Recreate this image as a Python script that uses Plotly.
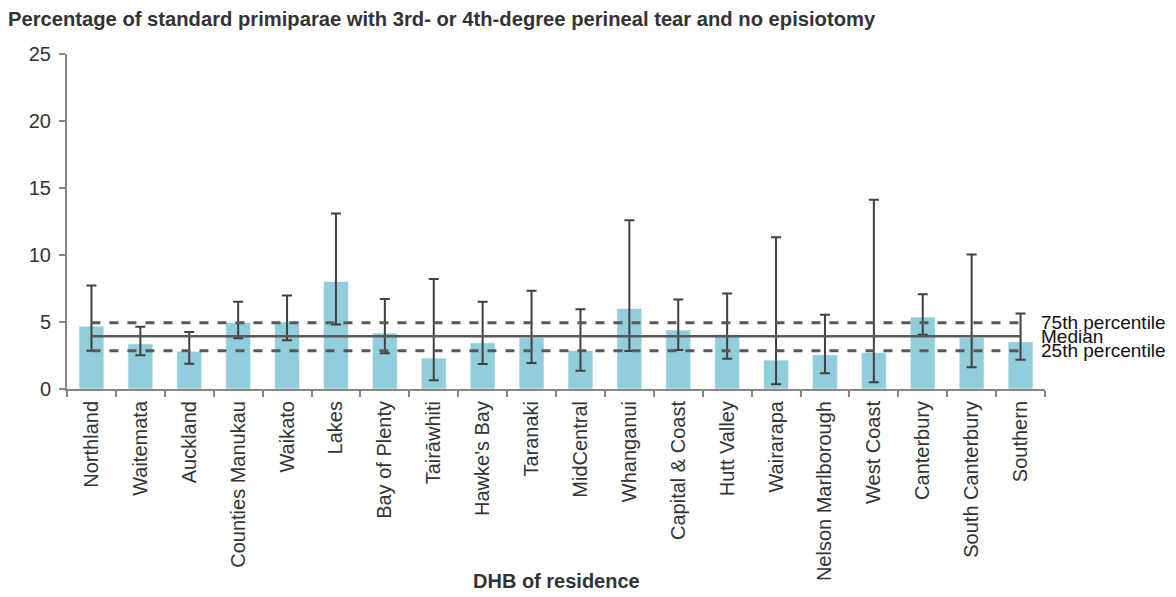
import plotly.graph_objects as go

categories = ["Northland", "Waitemata", "Auckland", "Counties Manukau", "Waikato", "Lakes",
              "Bay of Plenty", "Tairāwhiti", "Hawke's Bay", "Taranaki", "MidCentral", "Whanganui",
              "Capital & Coast", "Hutt Valley", "Wairarapa", "Nelson Marlborough", "West Coast",
              "Canterbury", "South Canterbury", "Southern"]
values = [4.69, 3.38, 2.81, 4.97, 5.02, 8.02, 4.17, 2.31, 3.45, 3.83, 2.88, 6.01,
          4.40, 4.07, 2.16, 2.56, 2.73, 5.37, 3.83, 3.53]
ci_upper = [7.73, 4.65, 4.25, 6.51, 6.98, 13.09, 6.71, 8.20, 6.51, 7.33, 5.96, 12.59,
            6.68, 7.13, 11.33, 5.54, 14.13, 7.08, 10.04, 5.64]
ci_lower = [2.86, 2.51, 1.89, 3.78, 3.63, 4.82, 2.66, 0.65, 1.86, 1.94, 1.37, 2.83,
            2.91, 2.26, 0.35, 1.17, 0.50, 4.05, 1.62, 2.19]
p75 = 4.94
median = 3.93
p25 = 2.86

FONT = "Liberation Sans, Arial, sans-serif"
TXT = "#333333"

# page body has an 8px margin; figure is sized/offset to compensate
W, H = 1160, 581
L, R, T, B = 59, 123, 46, 200
PH = H - T - B

fig = go.Figure()
fig.add_trace(go.Bar(
    x=categories, y=values,
    marker=dict(color="#92CDDC", line=dict(color="rgba(255,255,255,0.6)", width=1)),
    error_y=dict(type="data", symmetric=False,
                 array=[u - v for u, v in zip(ci_upper, values)],
                 arrayminus=[v - l for v, l in zip(values, ci_lower)],
                 color="#404040", thickness=2, width=5),
    showlegend=False, hoverinfo="skip"))

for val, dash, w in [(p75, "dash", 3), (median, "solid", 2.5), (p25, "dash", 3)]:
    fig.add_trace(go.Scatter(
        x=categories, y=[val] * len(categories), mode="lines",
        line=dict(color="#595959", width=w, dash=dash),
        showlegend=False, hoverinfo="skip"))

for label, val in [("75th percentile", p75), ("Median", median), ("25th percentile", p25)]:
    fig.add_annotation(x=0.9939, xref="paper", y=val, yref="y", text=label,
                       showarrow=False, xanchor="left", yanchor="middle",
                       font=dict(family=FONT, size=19, color="#111111"))

# x-axis title
fig.add_annotation(x=0.5, xref="paper", y=-(573 - (T + PH)) / PH, yref="paper",
                   text="<b>DHB of residence</b>", showarrow=False,
                   xanchor="center", yanchor="middle",
                   font=dict(family=FONT, size=20, color=TXT))

fig.update_layout(
    width=W, height=H,
    margin=dict(l=L, r=R, t=T, b=B, autoexpand=False),
    paper_bgcolor="white", plot_bgcolor="white",
    bargap=0.49,
    title=dict(text="<b>Percentage of standard primiparae with 3rd- or 4th-degree perineal tear and no episiotomy</b>",
               x=0, xref="container", xanchor="left",
               y=1 - 11 / H, yref="container", yanchor="middle",
               font=dict(family=FONT, size=20.2, color=TXT)),
    xaxis=dict(type="category", showline=True, linecolor="#868686", linewidth=2,
               ticks="outside", tickson="boundaries", ticklen=6, tickwidth=2, tickcolor="#868686",
               tickangle=-90, tickfont=dict(family=FONT, size=20, color=TXT), ticklabelstandoff=2,
               showgrid=False, zeroline=False, automargin=False),
    yaxis=dict(range=[0, 25], dtick=5, showline=True, linecolor="#868686", linewidth=2,
               ticks="outside", ticklen=6, tickwidth=2, tickcolor="#868686",
               tickfont=dict(family=FONT, size=20, color=TXT), ticklabelstandoff=4,
               showgrid=False, zeroline=False, automargin=False),
)

fig.write_html("out.html")
